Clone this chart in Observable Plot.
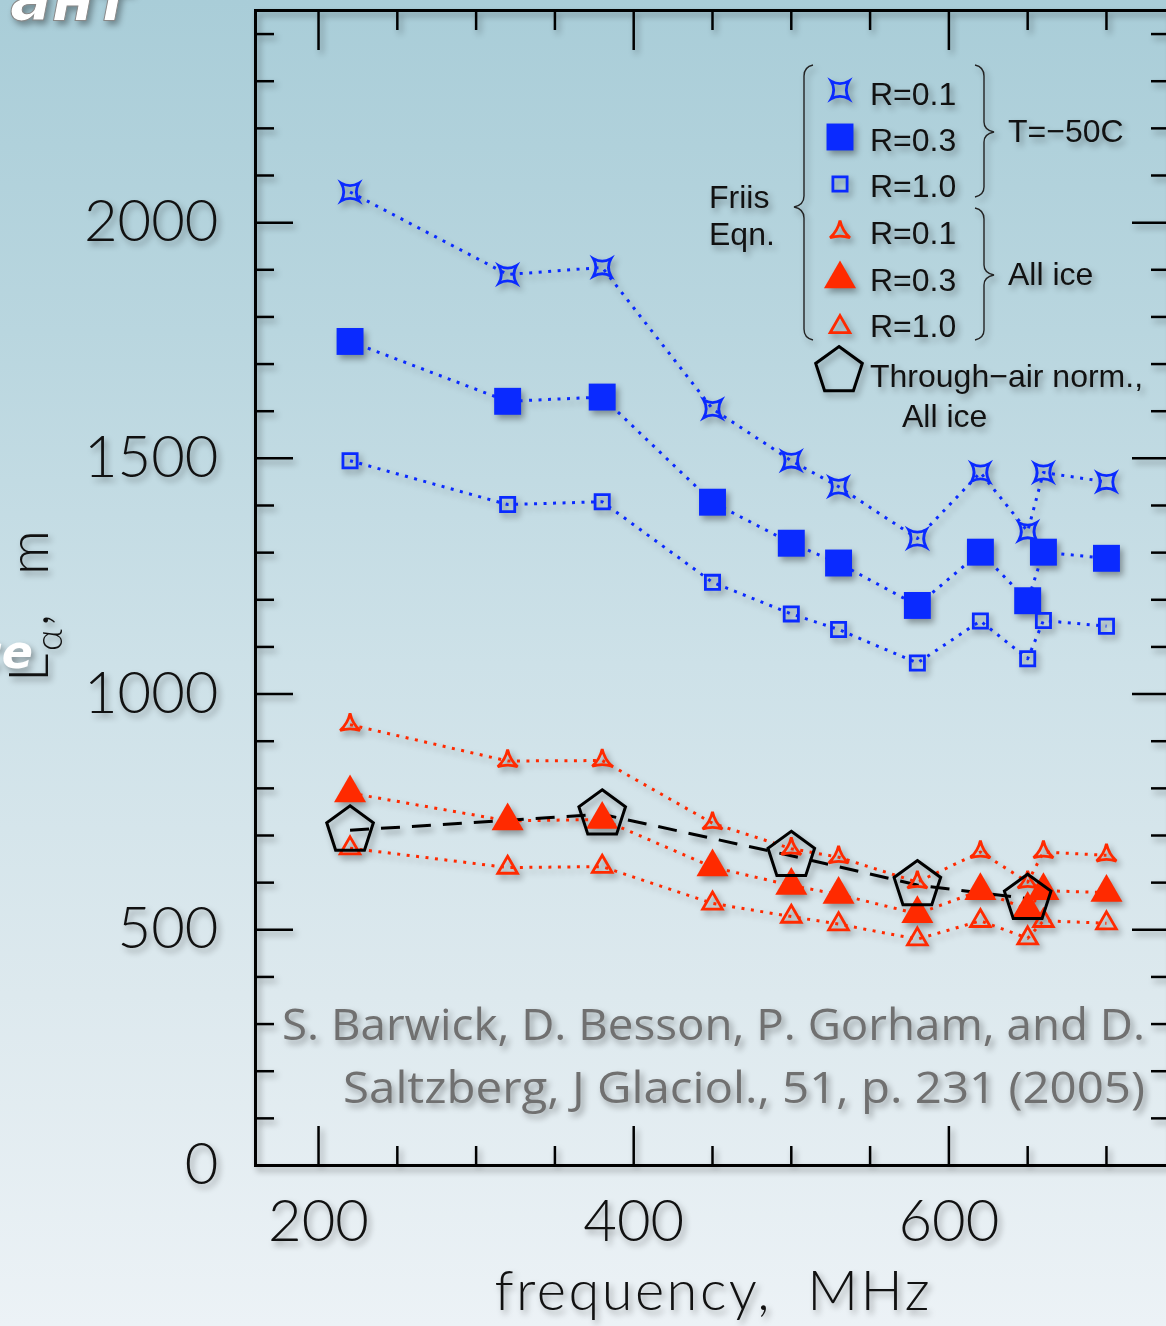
<!DOCTYPE html>
<html><head><meta charset="utf-8">
<script src="https://cdn.jsdelivr.net/npm/d3@7"></script>
<script src="https://cdn.jsdelivr.net/npm/@observablehq/plot@0.6"></script>
<style>
html,body{margin:0;padding:0;overflow:hidden;width:1166px;height:1326px;}
body{background:linear-gradient(to bottom,#a9cdd8 0%,#b9d6df 25%,#cde1e8 50%,#dde9ee 75%,#ecf2f6 100%);}
#chart svg{display:block;filter:drop-shadow(3px 4px 3px rgba(0,0,0,0.35));}
</style></head><body><div id="chart"></div><script>
// ---- data ----
const freq = [220, 320, 380, 450, 500, 530, 580, 620, 650, 660, 700];
const t50R01 = [2065, 1890, 1905, 1605, 1495, 1440, 1330, 1470, 1345, 1470, 1450];
const t50R03 = [1748, 1621, 1630, 1407, 1320, 1278, 1188, 1301, 1198, 1301, 1288];
const t50R10 = [1495, 1402, 1408, 1237, 1170, 1137, 1066, 1155, 1075, 1156, 1144];
const iceR01 = [935, 858, 859, 726, 672, 654, 601, 665, 601, 665, 658];
const iceR03 = [790, 731, 734, 633, 594, 575, 534, 583, 543, 583, 579];
const iceR10 = [673, 632, 634, 556, 528, 512, 480, 519, 482, 519, 514];
const airFreq = [220, 380, 500, 580, 650];
const airIce = [711, 745, 657, 595, 566];
const yMajor = [0, 500, 1000, 1500, 2000];
const yMinor = [100, 200, 300, 400, 600, 700, 800, 900, 1100, 1200, 1300, 1400, 1600, 1700, 1800, 1900, 2100, 2200, 2300, 2400];
const xMajor = [200, 400, 600];
const xMinor = [250, 300, 350, 450, 500, 550, 650, 700];
const citation = ["S. Barwick, D. Besson, P. Gorham, and D.", "Saltzberg, J Glaciol., 51, p. 231 (2005)"];

const BLUE = "#0a2aff", RED = "#ff2a00";
const rows = (xs, ys) => xs.map((f, i) => ({f, v: ys[i]}));

// ---- custom symbols ----
const star4 = {draw(ctx, size) {
  const R = Math.sqrt(size / Math.PI), c = 0.3 * R, d = Math.PI / 180;
  const P = [45, 135, 225, 315].map(a => [R * Math.cos(a * d), R * Math.sin(a * d)]);
  ctx.moveTo(P[0][0], P[0][1]);
  for (let i = 0; i < 4; i++) {
    const a = (90 + 90 * i) * d, p = P[(i + 1) % 4];
    ctx.quadraticCurveTo(c * Math.cos(a), c * Math.sin(a), p[0], p[1]);
  }
  ctx.closePath();
}};
const tristar = {draw(ctx, size) {
  const R = Math.sqrt(size / Math.PI), c = 0.22 * R, d = Math.PI / 180;
  const P = [-90, 30, 150].map(a => [R * Math.cos(a * d), R * Math.sin(a * d)]);
  ctx.moveTo(P[0][0], P[0][1]);
  for (let i = 0; i < 3; i++) {
    const a = (-30 + 120 * i) * d, p = P[(i + 1) % 3];
    ctx.quadraticCurveTo(c * Math.cos(a), c * Math.sin(a), p[0], p[1]);
  }
  ctx.closePath();
}};
const pentagon = {draw(ctx, size) {
  const R = Math.sqrt(size / Math.PI), d = Math.PI / 180;
  for (let i = 0; i < 5; i++) {
    const a = (-90 + 72 * i) * d;
    if (i === 0) ctx.moveTo(R * Math.cos(a), R * Math.sin(a)); else ctx.lineTo(R * Math.cos(a), R * Math.sin(a));
  }
  ctx.closePath();
}};

const dotted = {strokeWidth: 3, strokeDasharray: "3 6.5", strokeLinecap: "butt"};
const series = [
  {data: rows(freq, t50R01), color: BLUE, symbol: star4, r: 12.5, fill: "none", sw: 2.8},
  {data: rows(freq, t50R03), color: BLUE, symbol: "square", r: 15.2, fill: BLUE, sw: 0},
  {data: rows(freq, t50R10), color: BLUE, symbol: "square", r: 8, fill: "none", sw: 2.8},
  {data: rows(freq, iceR01), color: RED, symbol: tristar, r: 11.5, fill: "none", sw: 2.8},
  {data: rows(freq, iceR03), color: RED, symbol: "triangle", r: 11.9, fill: RED, sw: 0},
  {data: rows(freq, iceR10), color: RED, symbol: "triangle", r: 7.3, fill: "none", sw: 2.8}
];

const axisCommon = {label: null, stroke: "black", strokeWidth: 2.5};
const fmt = d => String(d);
const plot = Plot.plot({
  width: 1172, height: 1326,
  marginLeft: 255, marginRight: 3, marginTop: 10, marginBottom: 161,
  x: {domain: [160, 740]},
  y: {domain: [0, 2450]},
  style: {background: "transparent", maxWidth: "none", overflow: "visible", fontFamily: "Lato, sans-serif"},
  marks: [
    // ticks (inward) on all four sides
    Plot.axisY(yMajor, {...axisCommon, anchor: "left", tickSize: -38, fill: "none"}),
    Plot.axisY(yMinor, {...axisCommon, anchor: "left", tickSize: -19, fill: "none"}),
    Plot.axisY(yMajor, {...axisCommon, anchor: "right", tickSize: -38, fill: "none"}),
    Plot.axisY(yMinor, {...axisCommon, anchor: "right", tickSize: -19, fill: "none"}),
    Plot.axisX(xMajor, {...axisCommon, anchor: "bottom", tickSize: -39, fill: "none"}),
    Plot.axisX(xMinor, {...axisCommon, anchor: "bottom", tickSize: -19, fill: "none"}),
    Plot.axisX(xMajor, {...axisCommon, anchor: "top", tickSize: -39, fill: "none"}),
    Plot.axisX(xMinor, {...axisCommon, anchor: "top", tickSize: -19, fill: "none"}),
    // tick labels
    Plot.axisY(yMajor, {label: null, anchor: "left", tickSize: 0, tickPadding: 37, fontSize: 58, fontWeight: 300, fill: "#111", tickFormat: fmt}),
    Plot.axisX(xMajor, {label: null, anchor: "bottom", tickSize: 0, tickPadding: 34, fontSize: 58, fontWeight: 300, fill: "#111", tickFormat: fmt}),
    Plot.frame({stroke: "black", strokeWidth: 3}),
    // series lines
    ...series.map(s => Plot.line(s.data, {x: "f", y: "v", stroke: s.color, ...dotted})),
    Plot.line(rows(airFreq, airIce), {x: "f", y: "v", stroke: "black", strokeWidth: 3, strokeDasharray: "19 12", strokeLinecap: "butt"}),
    // markers
    ...series.map(s => Plot.dot(s.data, {x: "f", y: "v", symbol: s.symbol, r: s.r, fill: s.fill,
      stroke: s.sw ? s.color : "none", strokeWidth: s.sw})),
    Plot.dot(rows(airFreq, airIce), {x: "f", y: "v", symbol: pentagon, r: 24.5, fill: "none", stroke: "black", strokeWidth: 3})
  ]
});
document.getElementById("chart").append(plot);

// ---- annotations ----
const svg = d3.select(plot);
const g = svg.append("g").attr("text-anchor", "start");

// background decorative fragments
g.append("text").attr("x", 10).attr("y", 20).attr("font-family", "DejaVu Sans").attr("font-weight", "bold")
  .attr("font-style", "italic").attr("font-size", 62).attr("fill", "white").attr("stroke", "#888").attr("stroke-width", 1)
  .text("ант");
g.append("text").attr("x", 33).attr("y", 668).attr("text-anchor", "end").attr("font-family", "DejaVu Sans")
  .attr("font-weight", "bold").attr("font-style", "italic").attr("font-size", 46).attr("fill", "white")
  .text("ce");

// y axis label (rotated)
const yl = g.append("text").attr("transform", "translate(48,682) rotate(-90)").attr("font-family", "Lato, sans-serif")
  .attr("font-size", 56).attr("font-weight", 300).attr("fill", "#111")
  .attr("textLength", 152).attr("lengthAdjust", "spacing");
yl.append("tspan").text("L");
yl.append("tspan").attr("font-size", 38).attr("dy", 14).text("α");
yl.append("tspan").attr("dy", -14).text(",  m");

// x axis label
g.append("text").attr("x", 712).attr("y", 1310).attr("text-anchor", "middle").attr("font-family", "Lato, sans-serif")
  .attr("font-size", 56).attr("font-weight", 300).attr("fill", "#111").attr("textLength", 435).attr("lengthAdjust", "spacing")
  .text("frequency,  MHz");

// citation
const cit = g.append("g").attr("font-family", "'Open Sans', sans-serif").attr("font-size", 44).attr("fill", "#707070").attr("text-anchor", "end");
cit.append("text").attr("x", 1145).attr("y", 1040).attr("textLength", 863).attr("lengthAdjust", "spacingAndGlyphs").text(citation[0]);
cit.append("text").attr("x", 1145).attr("y", 1103).attr("textLength", 802).attr("lengthAdjust", "spacingAndGlyphs").text(citation[1]);

// legend
const lg = g.append("g").attr("font-family", "'Liberation Sans', Arial, sans-serif").attr("font-size", 32).attr("fill", "#111").attr("text-anchor", "start");
const legendItems = [
  {label: "R=0.1", y: 90, base: 105, s: series[0]},
  {label: "R=0.3", y: 137, base: 151, s: series[1]},
  {label: "R=1.0", y: 184, base: 197, s: series[2]},
  {label: "R=0.1", y: 232, base: 244, s: series[3]},
  {label: "R=0.3", y: 279, base: 291, s: series[4]},
  {label: "R=1.0", y: 327, base: 337, s: series[5]}
];
const symType = s => s === "square" ? d3.symbolSquare : s === "triangle" ? d3.symbolTriangle : s;
legendItems.forEach(it => {
  const s = it.s;
  lg.append("path").attr("transform", `translate(840,${it.y})`)
    .attr("d", d3.symbol(symType(s.symbol), Math.PI * s.r * s.r)())
    .attr("fill", s.fill).attr("stroke", s.sw ? s.color : "none").attr("stroke-width", s.sw);
  lg.append("text").attr("x", 870).attr("y", it.base).text(it.label);
});
lg.append("path").attr("transform", "translate(839,371)").attr("d", d3.symbol(pentagon, Math.PI * 24.5 * 24.5)())
  .attr("fill", "none").attr("stroke", "black").attr("stroke-width", 3);
lg.append("text").attr("x", 870).attr("y", 387).text("Through−air norm.,");
lg.append("text").attr("x", 902).attr("y", 427).text("All ice");
lg.append("text").attr("x", 1008).attr("y", 142).text("T=−50C");
lg.append("text").attr("x", 1008).attr("y", 285).text("All ice");
lg.append("text").attr("x", 709).attr("y", 208).text("Friis");
lg.append("text").attr("x", 709).attr("y", 245).text("Eqn.");
const braces = [
  "M813,65 Q804,67 804,76 L804,196 Q804,205 794,207 Q804,209 804,218 L804,329 Q804,338 813,340",
  "M975,65 Q984,67 984,76 L984,122 Q984,130 994,132 Q984,134 984,142 L984,187 Q984,195 975,197",
  "M975,208 Q984,210 984,219 L984,265 Q984,273 994,275 Q984,277 984,285 L984,330 Q984,338 975,340"
];
braces.forEach(d => lg.append("path").attr("d", d).attr("fill", "none").attr("stroke", "#222").attr("stroke-width", 1.4));
</script></body></html>
